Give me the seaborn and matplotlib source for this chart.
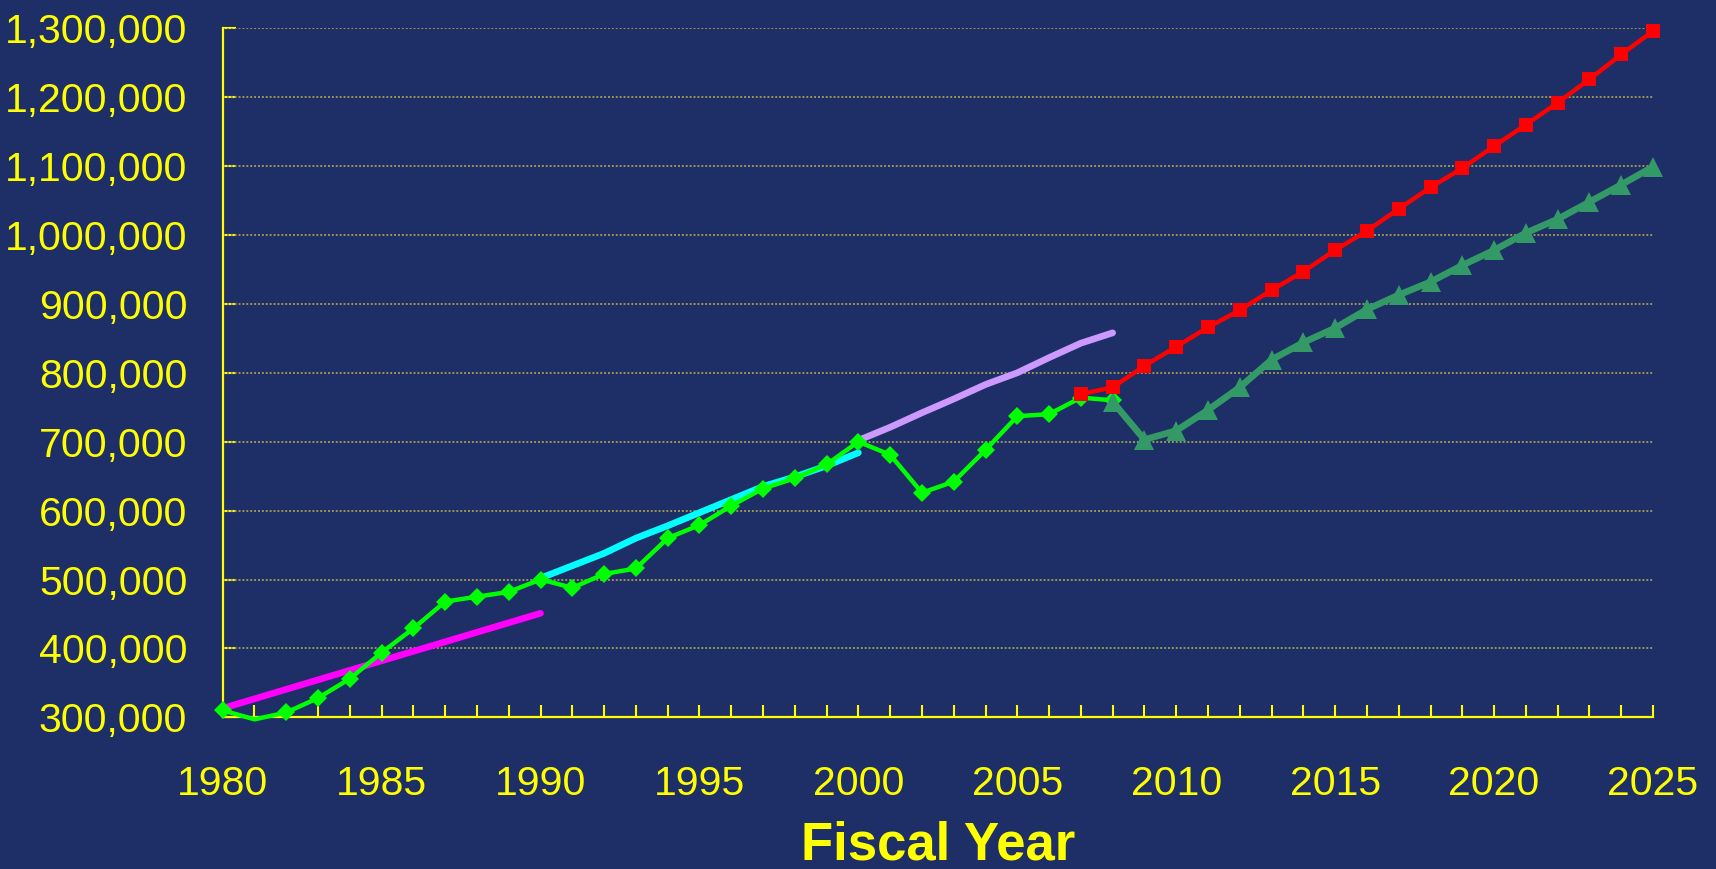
import numpy as np
import pandas as pd
import matplotlib
matplotlib.use("Agg")
import matplotlib.pyplot as plt
import seaborn as sns
from matplotlib.ticker import MultipleLocator, FuncFormatter

################ DATA ################

# actual (green diamonds)
years_actual = list(range(1980, 2009))
actual = [310000, 297000, 307000, 328000, 356000, 394000, 429000, 468000, 475000, 482000,
          500000, 488000, 508000, 516000, 560000, 579000, 607000, 632000, 647000, 667000,
          700000, 681000, 626000, 642000, 688000, 737000, 740000, 764000, 760000]

# projection (red squares)
years_red = list(range(2007, 2026))
red_proj = [769000, 779000, 810000, 838000, 866000, 891000, 920000, 947000, 978000, 1006000,
            1038000, 1069000, 1097000, 1129000, 1160000, 1192000, 1226000, 1262000, 1296000]

# projection (dark green triangles)
years_tri = list(range(2008, 2026))
tri_proj = [758000, 703000, 716000, 746000, 779000, 819000, 844000, 865000, 892000,
            913000, 932000, 956000, 978000, 1003000, 1023000, 1048000, 1073000, 1099000]

# older forecasts (plain lines)
years_magenta = [1980, 1990]
magenta = [313000, 451000]

years_cyan = list(range(1990, 2001))
cyan = [502000, 520000, 538000, 560000, 578000, 597000, 616000, 635000, 649000, 665000, 684000]

years_lav = list(range(2000, 2009))
lavender = [702000, 721000, 742000, 762000, 783000, 800000, 822000, 843000, 858000]

################ STYLE ################

bg = "#1e2e66"
yel = "#ffff00"

sns.set_style("white")
plt.rcParams["font.family"] = ["Liberation Sans", "DejaVu Sans"]

fig = plt.figure(figsize=(17.16, 8.69), dpi=100, facecolor=bg)
ax = fig.add_axes([222.7 / 1716, 1 - 717.3 / 869, (1653 - 222.7) / 1716, (717.3 - 28.3) / 869])
ax.set_facecolor(bg)

################ LINES ################

sns.lineplot(x=years_magenta, y=magenta, color="#ff00ff", linewidth=4.8, ax=ax, zorder=2)
sns.lineplot(x=years_cyan, y=cyan, color="#00ffff", linewidth=4.8, ax=ax, zorder=2)
sns.lineplot(x=years_lav, y=lavender, color="#cc99ff", linewidth=4.8, ax=ax, zorder=2)

# no marker on 1981 (below axis floor in the original)
sns.lineplot(x=years_actual, y=actual, color="#00ff00", linewidth=3.2, marker="D",
             markersize=9, markeredgewidth=0, markevery=[i for i in range(len(actual)) if i != 1],
             ax=ax, zorder=4, clip_on=False)
sns.lineplot(x=years_tri, y=tri_proj, color="#339966", linewidth=4.8, marker="^",
             markersize=14, markeredgewidth=0, ax=ax, zorder=5, clip_on=False)
sns.lineplot(x=years_red, y=red_proj, color="#ff0000", linewidth=3.2, marker="s",
             markersize=9.5, markeredgewidth=0, ax=ax, zorder=6, clip_on=False)

################ AXES ################

ax.set_xlim(1980, 2025)
ax.set_ylim(300000, 1300000)

ax.xaxis.set_major_locator(MultipleLocator(5))
ax.xaxis.set_minor_locator(MultipleLocator(1))
ax.yaxis.set_major_locator(MultipleLocator(100000))
ax.yaxis.set_major_formatter(FuncFormatter(lambda v, p: f"{int(v):,}"))

ax.tick_params(axis="x", which="both", direction="in", length=9, width=1.5, color=yel,
               labelcolor=yel, labelsize=29.5, pad=34, bottom=True)
ax.tick_params(axis="y", which="major", direction="in", length=9, width=1.5, color=yel,
               labelcolor=yel, labelsize=29.5, pad=25.5, left=True)

for s in ["top", "right"]:
    ax.spines[s].set_visible(False)
for s in ["left", "bottom"]:
    ax.spines[s].set_color(yel)
    ax.spines[s].set_linewidth(1.6)

ax.grid(False)
for v in range(400000, 1300001, 100000):
    ax.axhline(v, color="#999654", linestyle=(0, (1, 1)), linewidth=1.4, zorder=1)

ax.set_xlabel("Fiscal Year", color=yel, fontsize=38, fontweight="bold", va="baseline")
ax.xaxis.set_label_coords((938 - 222.7) / (1653 - 222.7), -(860 - 717.3) / (717.3 - 28.3))
ax.set_ylabel("")

fig.savefig("out.png", dpi=100, facecolor=bg)
